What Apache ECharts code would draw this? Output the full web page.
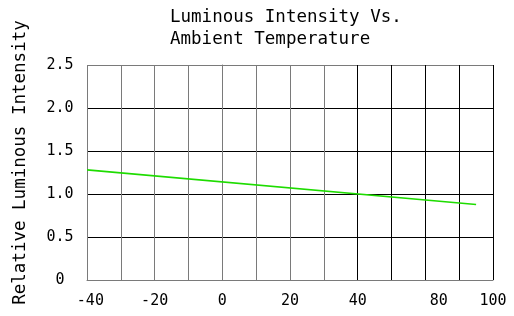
<!DOCTYPE html>
<html>
<head>
<meta charset="utf-8">
<script src="https://cdn.jsdelivr.net/npm/echarts@6/dist/echarts.min.js"></script>
<style>html,body{margin:0;padding:0;background:#fff;}#c{width:514px;height:316px;}</style>
</head>
<body>
<div id="c"></div>
<script>
// Data
const titleLines = ['Luminous Intensity Vs.', 'Ambient Temperature'];
const yAxisName = 'Relative Luminous Intensity';
const temperature = [-40, 75];
const intensity = [1.28, 0.877];
const xTickValues = [-39, -20, 0, 20, 40, 64, 80];
const xTickLabels = ['-40', '-20', '0', '20', '40', '80', '100'];
const yTickLabels = {0: '0', 0.5: '0.5', 1: '1.0', 1.5: '1.5', 2: '2.0', 2.5: '2.5'};

const FONT = 'DejaVu Sans Mono';
const chart = echarts.init(document.getElementById('c'), null, {renderer: 'canvas'});
const lineData = temperature.map((t, i) => [t, intensity[i]]);
const gray = '#7a7a7a';

chart.setOption({
  animation: false,
  backgroundColor: '#fff',
  title: {
    text: titleLines.join('\n'),
    left: 165, top: 1,
    textStyle: {fontFamily: FONT, fontSize: 17.5, fontWeight: 'normal', color: '#000', lineHeight: 22}
  },
  grid: {left: 87, right: 21, top: 65, bottom: 36, containLabel: false, outerBoundsMode: 'none'},
  xAxis: {
    type: 'value', min: -40, max: 80, interval: 10,
    axisLine: {show: true, lineStyle: {color: gray, width: 1}},
    axisTick: {show: false},
    axisLabel: {
      customValues: xTickValues,
      formatter: v => { const i = xTickValues.indexOf(v); return i >= 0 ? xTickLabels[i] : ''; },
      fontFamily: FONT, fontSize: 15, color: '#000', margin: 14
    },
    splitLine: {show: true, lineStyle: {color: [gray, gray, gray, gray, gray, gray, gray, gray, '#000', '#000', '#000', '#000', '#000'], width: 1}}
  },
  yAxis: {
    type: 'value', min: 0, max: 2.5, interval: 0.5,
    name: yAxisName, nameLocation: 'middle', nameGap: 58, nameRotate: 90,
    nameTextStyle: {fontFamily: FONT, fontSize: 17.5, color: '#000', padding: [0, 0, 0, 20]},
    axisLine: {show: true, lineStyle: {color: gray, width: 1}},
    axisTick: {show: false},
    axisLabel: {
      formatter: v => yTickLabels[v] !== undefined ? yTickLabels[v] : '',
      fontFamily: FONT, fontSize: 15, color: '#000', margin: 27, align: 'center'
    },
    splitLine: {show: true, lineStyle: {color: [gray, '#000', '#000', '#000', '#000', gray], width: 1}}
  },
  series: [{
    type: 'line', data: lineData, symbol: 'none',
    lineStyle: {color: '#1edc00', width: 1.6}
  }]
});
</script>
</body>
</html>
